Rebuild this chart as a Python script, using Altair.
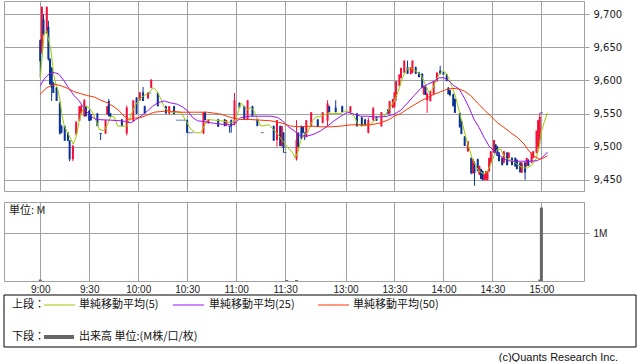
import altair as alt
import pandas as pd

# ---------------- data ----------------
# time index: minutes after 9:00 in the morning; afternoon 12:30 = 157
tick_pos = [0, 30, 60, 90, 120, 150, 187, 217, 247, 277, 307]
tick_labels = ["9:00", "9:30", "10:00", "10:30", "11:00", "11:30",
               "13:00", "13:30", "14:00", "14:30", "15:00"]
price_ticks = [9450, 9500, 9550, 9600, 9650, 9700]

candle_t = [0, 1, 2, 4, 5, 6, 7, 8, 10, 12, 13, 15, 17, 18, 20, 22, 24, 25, 27, 28,
            30, 31, 35, 37, 40, 41, 42, 43, 50, 53, 57, 59, 61, 63, 64, 66, 67, 68, 72, 77,
            79, 82, 84, 86, 88, 90, 91, 93, 100, 101, 103, 109, 113, 114, 116, 117, 119, 122, 125, 127,
            130, 133, 136, 143, 145, 147, 148, 149, 150,
            157, 158, 160, 161, 162, 163, 166, 170, 173, 176, 177, 181, 185, 190, 194, 197, 199, 201, 204, 206,
            209, 213, 214, 216, 217, 218, 220, 221, 223, 225, 227, 228, 230, 232, 234, 235, 236, 237, 239, 241,
            243, 245, 247, 249, 250, 251, 253, 254, 257, 258, 260, 262, 264, 265, 266, 268, 269, 270, 271, 272,
            273, 274, 275, 276, 278, 279, 280, 281, 283, 284, 286, 287, 289, 291, 292, 294, 295, 297, 298, 299,
            301, 302, 304, 305, 306, 307]
candle_open = [9661, 9642, 9692, 9672, 9681, 9632, 9619, 9596, 9589, 9565, 9531, 9531, 9521, 9509, 9481, 9519, 9539, 9551, 9546, 9561,
               9554, 9549, 9550, 9520, 9520, 9549, 9569, 9550, 9541, 9520, 9539, 9574, 9570, 9582, 9561, 9573, 9581, 9589, 9581, 9561,
               9550, 9561, 9540, 9540, 9540, 9540, 9521, 9521, 9520, 9552, 9535, 9541, 9541, 9532, 9531, 9540, 9534, 9566, 9561, 9541,
               9561, 9541, 9521, 9531, 9510, 9531, 9501, 9521, 9491,
               9481, 9521, 9531, 9530, 9521, 9515, 9531, 9541, 9536, 9539, 9561, 9559, 9561, 9552, 9550, 9544, 9541, 9521, 9540, 9545,
               9531, 9556, 9550, 9559, 9560, 9575, 9592, 9604, 9612, 9620, 9610, 9612, 9620, 9612, 9610, 9579, 9590, 9570, 9569, 9579,
               9599, 9615, 9612, 9609, 9589, 9585, 9579, 9572, 9551, 9539, 9515, 9493, 9483, 9460, 9475, 9481, 9458, 9466, 9463, 9450,
               9450, 9450, 9463, 9476, 9491, 9503, 9500, 9491, 9483, 9476, 9491, 9483, 9483, 9483, 9480, 9476, 9461, 9476, 9471, 9480,
               9476, 9483, 9491, 9500, 9510, 9551]
candle_high = [9662, 9712, 9700, 9712, 9690, 9634, 9620, 9598, 9590, 9568, 9533, 9532, 9522, 9510, 9503, 9539, 9561, 9563, 9572, 9562,
               9556, 9550, 9551, 9520, 9540, 9561, 9572, 9551, 9542, 9562, 9570, 9575, 9582, 9590, 9562, 9582, 9581, 9602, 9582, 9562,
               9561, 9562, 9540, 9540, 9540, 9541, 9521, 9521, 9552, 9553, 9541, 9542, 9542, 9540, 9531, 9541, 9581, 9567, 9562, 9570,
               9562, 9542, 9521, 9532, 9540, 9532, 9531, 9522, 9491,
               9540, 9522, 9532, 9531, 9521, 9540, 9552, 9542, 9552, 9570, 9562, 9570, 9562, 9561, 9551, 9545, 9542, 9544, 9560, 9546,
               9552, 9557, 9569, 9572, 9582, 9599, 9609, 9619, 9630, 9630, 9620, 9630, 9621, 9613, 9611, 9592, 9591, 9582, 9584, 9599,
               9612, 9622, 9613, 9610, 9590, 9586, 9580, 9573, 9552, 9540, 9516, 9508, 9484, 9481, 9478, 9482, 9471, 9467, 9464, 9458,
               9463, 9463, 9483, 9493, 9510, 9504, 9501, 9492, 9484, 9493, 9492, 9491, 9484, 9484, 9481, 9477, 9476, 9477, 9483, 9481,
               9491, 9493, 9524, 9540, 9551, 9551]
candle_low = [9605, 9640, 9668, 9670, 9630, 9594, 9569, 9581, 9569, 9518, 9520, 9509, 9509, 9478, 9478, 9517, 9539, 9550, 9545, 9546,
              9539, 9539, 9531, 9510, 9519, 9548, 9546, 9545, 9531, 9517, 9538, 9549, 9569, 9569, 9550, 9572, 9581, 9588, 9561, 9550,
              9549, 9549, 9540, 9540, 9540, 9521, 9521, 9521, 9519, 9540, 9535, 9530, 9531, 9531, 9521, 9521, 9532, 9559, 9541, 9540,
              9546, 9531, 9521, 9509, 9500, 9501, 9500, 9491, 9491,
              9479, 9498, 9511, 9521, 9510, 9514, 9530, 9530, 9535, 9530, 9552, 9552, 9552, 9551, 9530, 9531, 9531, 9520, 9539, 9539,
              9530, 9550, 9549, 9558, 9559, 9569, 9591, 9603, 9611, 9610, 9609, 9611, 9610, 9605, 9589, 9578, 9578, 9551, 9568, 9578,
              9598, 9609, 9609, 9599, 9579, 9576, 9561, 9551, 9529, 9519, 9501, 9492, 9458, 9459, 9441, 9463, 9457, 9451, 9449, 9449,
              9449, 9449, 9462, 9475, 9490, 9490, 9486, 9478, 9472, 9475, 9472, 9482, 9472, 9470, 9466, 9461, 9460, 9450, 9470, 9471,
              9475, 9482, 9490, 9496, 9504, 9551]
candle_close = [9629, 9711, 9670, 9711, 9632, 9594, 9589, 9581, 9569, 9520, 9521, 9509, 9509, 9481, 9501, 9537, 9561, 9561, 9570, 9546,
                9539, 9540, 9531, 9520, 9540, 9561, 9546, 9545, 9531, 9559, 9570, 9550, 9582, 9569, 9550, 9582, 9581, 9601, 9561, 9550,
                9561, 9549, 9540, 9540, 9540, 9521, 9521, 9521, 9552, 9540, 9541, 9530, 9531, 9540, 9531, 9531, 9570, 9559, 9541, 9570,
                9546, 9531, 9521, 9509, 9540, 9501, 9531, 9498, 9491,
                9510, 9500, 9512, 9521, 9521, 9540, 9552, 9530, 9552, 9565, 9552, 9552, 9552, 9561, 9531, 9531, 9531, 9540, 9558, 9539,
                9552, 9550, 9569, 9572, 9582, 9599, 9609, 9619, 9630, 9610, 9620, 9630, 9610, 9605, 9589, 9592, 9578, 9580, 9584, 9599,
                9612, 9610, 9609, 9599, 9579, 9578, 9561, 9551, 9529, 9519, 9501, 9508, 9460, 9481, 9460, 9463, 9471, 9451, 9450, 9458,
                9463, 9463, 9483, 9493, 9510, 9490, 9486, 9478, 9472, 9493, 9472, 9491, 9472, 9470, 9466, 9461, 9476, 9461, 9483, 9471,
                9491, 9493, 9524, 9540, 9545, 9551]

ma5_t = [0, 2.4, 3.9, 6.6, 8.2, 9.6, 10.7, 12.2, 13.3, 14.7, 16.8, 18.8, 20.2, 21.9, 23.9, 26, 28, 30, 32.1, 34.1,
         36.1, 39.2, 41.3, 43.3, 45.3, 47.4, 53.1, 56.6, 58.6, 61.7, 63.7, 66.7, 69.4, 71.5, 73.9, 75.9, 78, 80, 86.2, 89.2,
         92.3, 95.3, 98.4, 100.4, 102.5, 106.6, 110.7, 116.8, 118.8, 120.9, 122.9, 124.6, 127, 129, 131, 133.1, 135.1, 140.2, 145.4, 148.4,
         151.9, 154.6, 156.2, 158, 159.6, 161.7, 163.7, 166.8, 168.8, 170.9, 176, 179.1, 184.1, 186.6, 189.2, 192.3, 194.4, 196.4, 202.5, 204.5,
         207.6, 210.7, 213.7, 216.8, 219.8, 221.9, 224.6, 227, 230.1, 233.1, 236.2, 238.2, 240.3, 242.3, 244.3, 246.4, 248.4, 250.5, 252.5, 254.6,
         256.6, 258.7, 260.7, 262.7, 264.8, 266.8, 268.8, 271.5, 273.5, 275.6, 278, 280.1, 282.1, 284.1, 286.2, 289.2, 292.3, 295.4, 298.5, 301.5,
         303.6, 305.6, 306.6, 308.6, 310.7]
ma5_v = [9604, 9670, 9675, 9645, 9609, 9594, 9587, 9569, 9549, 9531, 9521, 9511, 9504, 9514, 9539, 9556, 9561, 9559, 9551, 9540,
         9526, 9524, 9534, 9546, 9545, 9531, 9531, 9554, 9564, 9574, 9577, 9582, 9589, 9584, 9572, 9560, 9554, 9552, 9552, 9539,
         9526, 9521, 9521, 9531, 9541, 9540, 9539, 9536, 9538, 9549, 9566, 9561, 9556, 9559, 9554, 9541, 9531, 9533, 9519, 9509,
         9498, 9491, 9483, 9493, 9509, 9519, 9521, 9539, 9545, 9545, 9550, 9550, 9550, 9554, 9552, 9546, 9535, 9531, 9534, 9539,
         9546, 9546, 9556, 9569, 9587, 9604, 9617, 9619, 9614, 9609, 9592, 9582, 9587, 9599, 9609, 9614, 9612, 9602, 9589, 9574,
         9554, 9534, 9514, 9498, 9481, 9471, 9463, 9459, 9461, 9471, 9486, 9496, 9496, 9486, 9481, 9479, 9473, 9468, 9468, 9473,
         9481, 9498, 9519, 9536, 9551]

ma25_t = [0, 2.4, 5.5, 8.6, 11.6, 14.7, 17.8, 20.8, 23.9, 26, 28, 31, 34.1, 43.3, 49.4, 52.5, 55.5, 58.6, 61.7, 65.8,
          68.8, 71.9, 75.9, 80, 84.1, 87.2, 90.3, 93.3, 96.4, 100.4, 104.5, 110.7, 116.8, 118.8, 122.9, 129, 137.2, 141.3, 145.4, 148.4,
          151.5, 155.5, 159.6, 163.7, 167.8, 171.9, 176, 180, 184.1, 188.2, 192.3, 196.4, 200.5, 204.5, 208.6, 212.7, 216.8, 220.9, 225, 229,
          233.1, 237.2, 241.3, 244.3, 247.4, 250.5, 253.5, 256.6, 259.7, 262.7, 265.8, 268.8, 271.9, 274.9, 278, 281.1, 284.1, 288.2, 294.3, 300.5,
          304.6, 306.6, 308.6, 310.7]
ma25_v = [9592, 9602, 9610, 9612, 9609, 9599, 9587, 9577, 9569, 9561, 9554, 9546, 9541, 9540, 9539, 9538, 9536, 9541, 9546, 9554,
          9561, 9566, 9569, 9566, 9564, 9560, 9554, 9544, 9539, 9538, 9536, 9534, 9533, 9534, 9544, 9546, 9546, 9546, 9544, 9539,
          9531, 9524, 9516, 9516, 9519, 9524, 9531, 9539, 9546, 9552, 9549, 9546, 9546, 9545, 9545, 9546, 9549, 9555, 9566, 9577,
          9588, 9594, 9599, 9604, 9604, 9599, 9592, 9587, 9574, 9559, 9541, 9529, 9514, 9501, 9493, 9488, 9481, 9478, 9478, 9478,
          9479, 9482, 9486, 9492]

ma50_t = [0, 3.5, 6.6, 9.6, 12.7, 16.8, 20.8, 24.9, 29, 33.1, 37.2, 41.3, 45.3, 48.4, 51.4, 54.5, 57.6, 61.7, 65.8, 69.8,
          73.9, 78, 86.2, 94.3, 102.5, 110.7, 116.8, 122.9, 129, 135.1, 141.3, 147.4, 153.5, 159.6, 165.8, 171.9, 178, 184.1, 190.3, 196.4,
          202.5, 208.6, 213.7, 216.8, 220.9, 225, 229, 233.1, 237.2, 241.3, 245.4, 249.5, 253.5, 256.6, 259.7, 263.8, 267.8, 271.9, 276, 280.1,
          284.1, 288.2, 292.3, 296.4, 299.5, 302.5, 305.6, 307.6, 310.7]
ma50_v = [9579, 9588, 9592, 9594, 9592, 9588, 9583, 9580, 9577, 9575, 9570, 9566, 9560, 9554, 9546, 9541, 9543, 9544, 9548, 9552,
          9553, 9554, 9552, 9552, 9552, 9549, 9544, 9541, 9541, 9540, 9539, 9536, 9531, 9530, 9531, 9530, 9530, 9531, 9533, 9533,
          9533, 9536, 9541, 9546, 9550, 9557, 9563, 9569, 9574, 9579, 9583, 9587, 9588, 9587, 9584, 9577, 9566, 9556, 9546, 9536,
          9529, 9521, 9514, 9504, 9493, 9486, 9481, 9482, 9486]

vol_t = [0, 151, 157, 306, 307]
vol_m = [0.03, 0.02, 0.02, 0.03, 1.53]

# ---------------- styling ----------------
UP = "#f5103c"
DOWN = "#0a3296"
GRID = "#a0a0a0"
JP = "Noto Sans CJK JP"
X_DOMAIN = [-22.2, 333.1]

label_expr = "''"
for p, lab in zip(reversed(tick_pos), reversed(tick_labels)):
    label_expr = f"datum.value == {p} ? '{lab}' : ({label_expr})"

candles = pd.DataFrame({"t": candle_t, "o": candle_open, "h": candle_high,
                        "l": candle_low, "c": candle_close})
candles["lo"] = candles[["o", "c"]].min(axis=1)
candles["hi"] = candles[["o", "c"]].max(axis=1)

ma = pd.concat([
    pd.DataFrame({"t": ma5_t, "v": ma5_v, "s": "MA5"}),
    pd.DataFrame({"t": ma25_t, "v": ma25_v, "s": "MA25"}),
    pd.DataFrame({"t": ma50_t, "v": ma50_v, "s": "MA50"}),
])

x_scale = alt.Scale(domain=X_DOMAIN, nice=False, zero=False, padding=0)
x_top = alt.X("t:Q", scale=x_scale,
              axis=alt.Axis(values=tick_pos, labels=False, ticks=False, domain=False,
                            grid=True, gridColor=GRID, title=None))
y_scale = alt.Scale(domain=[9433, 9720], nice=False, zero=False, padding=0)
y_axis = alt.Axis(orient="right", values=price_ticks, format=",d", grid=True,
                  gridColor=GRID, tickColor=GRID, tickSize=5, labelPadding=4,
                  domain=False, title=None, labelFont="DejaVu Sans",
                  labelFontSize=10, labelColor="#222222", labelOverlap=False)

color_cond = alt.condition("datum.c > datum.o", alt.value(UP), alt.value(DOWN))

wicks = alt.Chart(candles).mark_rule(strokeWidth=1).encode(
    x=x_top, y=alt.Y("l:Q", scale=y_scale, axis=y_axis), y2="h:Q", color=color_cond)
bodies = alt.Chart(candles).mark_bar(size=2).encode(
    x=x_top, y=alt.Y("lo:Q", scale=y_scale, axis=y_axis), y2="hi:Q", color=color_cond)
dojis = alt.Chart(candles).transform_filter("datum.o == datum.c").mark_tick(
    orient="horizontal", size=3, thickness=1).encode(
    x=x_top, y=alt.Y("c:Q", scale=y_scale, axis=y_axis), color=color_cond)
lines = alt.Chart(ma).mark_line(strokeWidth=1).encode(
    x=x_top, y=alt.Y("v:Q", scale=y_scale, axis=y_axis),
    color=alt.Color("s:N", scale=alt.Scale(domain=["MA5", "MA25", "MA50"],
                                           range=["#99cc00", "#9a14f5", "#ff3300"]),
                    legend=None))

top = alt.layer(wicks, bodies, dojis, lines).properties(width=580, height=190)

# volume panel
vol_df = pd.DataFrame({"t": vol_t, "m": vol_m})
x_vol = alt.X("t:Q", scale=x_scale,
              axis=alt.Axis(values=tick_pos, labelExpr=label_expr, ticks=False,
                            domain=False, grid=True, gridColor=GRID, title=None,
                            labelFont="Liberation Sans", labelFontSize=10,
                            labelPadding=3, labelColor="#222222",
                            labelOverlap=False, labelFlush=False))
vol_bars = alt.Chart(vol_df).mark_bar(size=3, color="#666666").encode(
    x=x_vol,
    y=alt.Y("m:Q", scale=alt.Scale(domain=[0, 1.646], nice=False, padding=0),
            axis=alt.Axis(orient="right", values=[1], labelExpr="'1M'", grid=True,
                          gridColor=GRID, tickColor=GRID, tickSize=5, labelPadding=4,
                          domain=False, title=None, labelFont="Liberation Sans",
                          labelFontSize=10, labelColor="#222222")))
unit_text = alt.Chart(pd.DataFrame({"s": ["単位: M"]})).mark_text(
    align="left", baseline="middle", font=JP, fontSize=11, color="#222222").encode(
    x=alt.value(5), y=alt.value(9), text="s:N")
vol = alt.layer(vol_bars, unit_text).properties(width=580, height=79)

# legend panel (origin 11 px below the volume panel; box drawn as a mark)
legend_base = alt.Chart(pd.DataFrame({"k": [0]}))


def txt(s, x, y, align="left", font=JP):
    return legend_base.mark_text(text=s, align=align, baseline="middle", font=font,
                                 fontSize=11, color="#111111").encode(
        x=alt.value(x), y=alt.value(y))


def seg(x1, x2, y, color, w):
    return legend_base.mark_rule(color=color, strokeWidth=w).encode(
        x=alt.value(x1), x2=alt.value(x2), y=alt.value(y))


box = legend_base.mark_rect(filled=False, stroke="#000000", strokeWidth=1).encode(
    x=alt.value(0), x2=alt.value(632), y=alt.value(3), y2=alt.value(55))

legend = alt.layer(
    box,
    txt("上段：", 8, 13),
    seg(40, 71, 13, "#99cc00", 1), txt("単純移動平均(5)", 75, 13),
    seg(169, 200, 13, "#9a14f5", 1), txt("単純移動平均(25)", 205, 13),
    seg(314, 345, 13, "#ff3300", 1), txt("単純移動平均(50)", 349, 13),
    txt("下段：", 8, 45),
    seg(40, 70, 45, "#666666", 4), txt("出来高 単位:(M株/口/枚)", 75, 45),
    txt("(c)Quants Research Inc.", 614, 66, align="right", font="Liberation Sans"),
).properties(width=632, height=55, view=alt.ViewBackground(stroke="transparent"))

chart = alt.vconcat(top, vol, legend, spacing=11, bounds="flush").properties(
    padding={"left": 3, "top": 0, "right": 0, "bottom": 0},
    background="white",
).configure_view(stroke=GRID, strokeWidth=1)

chart.save("out.html", embed_options={"renderer": "svg", "actions": False})
